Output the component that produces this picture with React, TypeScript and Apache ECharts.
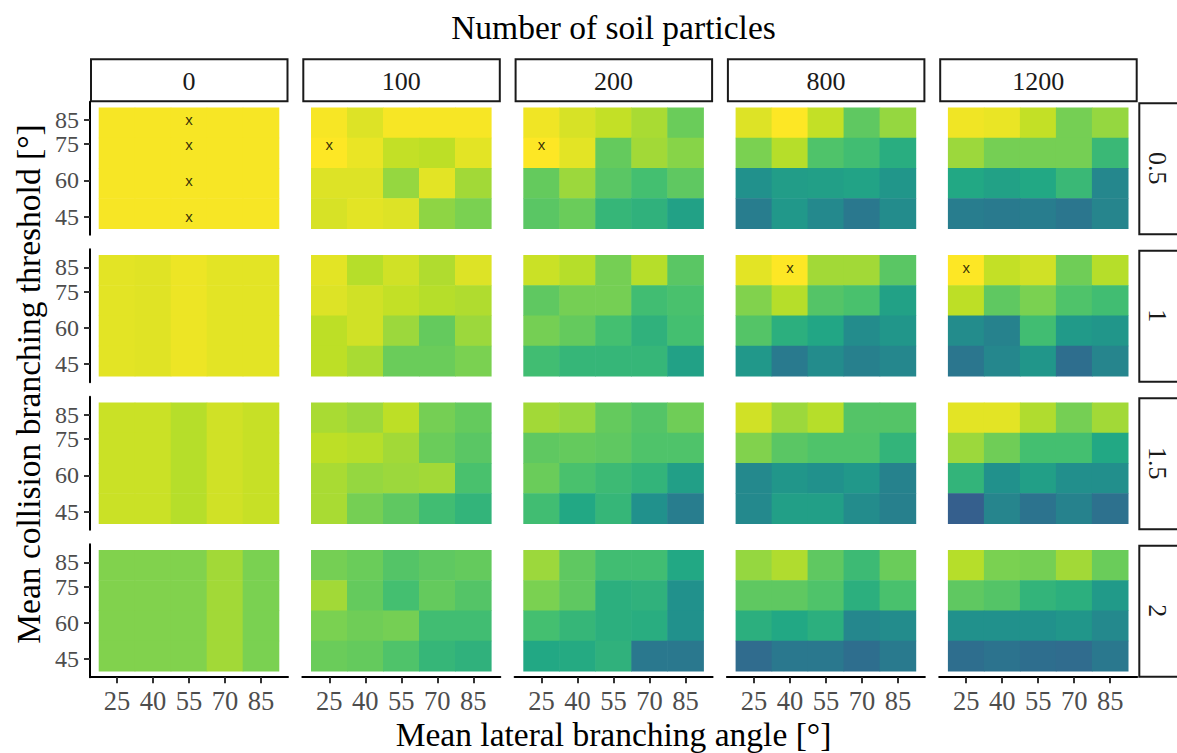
import React, { useEffect, useRef } from "react";
import * as echarts from "echarts";

// ---------- data ----------
const particleCounts = ["0", "100", "200", "800", "1200"];
const thresholdLevels = ["0.5", "1", "1.5", "2"];
const branchingAngles = [25, 40, 55, 70, 85];
const collisionRowsTopDown = [85, 75, 60, 45];
const collisionTicks = [45, 60, 75, 85];
const tileBandEdges = [40, 52.5, 65, 77.5, 90];
const tileWidth = 15;

// each panel: rows top-down (85, 75, 60, 45), columns = branching angles 25..85
const scoreT05 = [
  [
    [0.99, 0.99, 0.99, 0.99, 0.99],
    [0.99, 0.99, 0.99, 0.99, 0.99],
    [0.99, 0.99, 0.99, 0.99, 0.99],
    [0.99, 0.99, 0.99, 0.99, 0.99],
  ],
  [
    [0.99, 0.95, 0.99, 0.99, 0.99],
    [1.0, 0.97, 0.91, 0.9, 0.96],
    [0.95, 0.95, 0.84, 0.96, 0.86],
    [0.94, 0.96, 0.95, 0.83, 0.8],
  ],
  [
    [0.98, 0.94, 0.91, 0.87, 0.77],
    [1.0, 0.96, 0.76, 0.86, 0.82],
    [0.76, 0.85, 0.74, 0.7, 0.75],
    [0.74, 0.77, 0.66, 0.64, 0.57],
  ],
  [
    [0.95, 1.0, 0.91, 0.75, 0.84],
    [0.8, 0.89, 0.72, 0.69, 0.62],
    [0.5, 0.55, 0.56, 0.58, 0.52],
    [0.42, 0.53, 0.47, 0.4, 0.48],
  ],
  [
    [0.98, 0.97, 0.91, 0.79, 0.84],
    [0.85, 0.79, 0.79, 0.79, 0.67],
    [0.6, 0.57, 0.6, 0.67, 0.46],
    [0.42, 0.41, 0.42, 0.39, 0.45],
  ],
];

const scoreT1 = [
  [
    [0.96, 0.955, 0.975, 0.96, 0.96],
    [0.96, 0.955, 0.975, 0.96, 0.96],
    [0.96, 0.955, 0.975, 0.96, 0.96],
    [0.96, 0.955, 0.975, 0.96, 0.96],
  ],
  [
    [0.96, 0.89, 0.93, 0.88, 0.95],
    [0.95, 0.93, 0.91, 0.89, 0.88],
    [0.9, 0.93, 0.85, 0.76, 0.85],
    [0.9, 0.87, 0.77, 0.77, 0.8],
  ],
  [
    [0.92, 0.89, 0.79, 0.89, 0.74],
    [0.75, 0.79, 0.79, 0.69, 0.71],
    [0.79, 0.76, 0.7, 0.64, 0.7],
    [0.69, 0.66, 0.66, 0.66, 0.57],
  ],
  [
    [0.96, 1.0, 0.86, 0.86, 0.74],
    [0.81, 0.89, 0.73, 0.71, 0.57],
    [0.73, 0.63, 0.59, 0.48, 0.52],
    [0.53, 0.41, 0.48, 0.43, 0.46],
  ],
  [
    [1.0, 0.91, 0.93, 0.78, 0.89],
    [0.9, 0.75, 0.8, 0.72, 0.69],
    [0.48, 0.44, 0.69, 0.54, 0.52],
    [0.39, 0.46, 0.52, 0.36, 0.45],
  ],
];

const scoreT15 = [
  [
    [0.92, 0.92, 0.89, 0.93, 0.915],
    [0.92, 0.92, 0.89, 0.93, 0.915],
    [0.92, 0.92, 0.89, 0.93, 0.915],
    [0.92, 0.92, 0.89, 0.93, 0.915],
  ],
  [
    [0.87, 0.85, 0.9, 0.79, 0.76],
    [0.9, 0.89, 0.86, 0.77, 0.74],
    [0.87, 0.84, 0.85, 0.86, 0.71],
    [0.87, 0.79, 0.75, 0.69, 0.65],
  ],
  [
    [0.86, 0.84, 0.76, 0.73, 0.78],
    [0.75, 0.76, 0.75, 0.72, 0.72],
    [0.77, 0.71, 0.68, 0.65, 0.56],
    [0.69, 0.6, 0.66, 0.5, 0.42],
  ],
  [
    [0.93, 0.85, 0.89, 0.73, 0.73],
    [0.81, 0.74, 0.72, 0.72, 0.65],
    [0.47, 0.52, 0.5, 0.53, 0.44],
    [0.47, 0.56, 0.56, 0.48, 0.43],
  ],
  [
    [0.96, 0.96, 0.88, 0.79, 0.86],
    [0.85, 0.78, 0.7, 0.7, 0.6],
    [0.65, 0.5, 0.56, 0.49, 0.49],
    [0.3, 0.45, 0.38, 0.44, 0.37],
  ],
];

const scoreT2 = [
  [
    [0.81, 0.81, 0.81, 0.86, 0.8],
    [0.81, 0.81, 0.81, 0.86, 0.8],
    [0.81, 0.81, 0.81, 0.86, 0.8],
    [0.81, 0.81, 0.81, 0.86, 0.8],
  ],
  [
    [0.79, 0.77, 0.73, 0.75, 0.76],
    [0.86, 0.76, 0.7, 0.76, 0.73],
    [0.8, 0.78, 0.79, 0.69, 0.69],
    [0.77, 0.76, 0.72, 0.66, 0.64],
  ],
  [
    [0.85, 0.75, 0.69, 0.69, 0.6],
    [0.8, 0.75, 0.63, 0.64, 0.5],
    [0.7, 0.66, 0.63, 0.62, 0.5],
    [0.6, 0.61, 0.64, 0.4, 0.4],
  ],
  [
    [0.84, 0.88, 0.75, 0.68, 0.77],
    [0.75, 0.75, 0.72, 0.63, 0.71],
    [0.63, 0.6, 0.63, 0.46, 0.48],
    [0.35, 0.4, 0.4, 0.36, 0.41],
  ],
  [
    [0.89, 0.8, 0.79, 0.86, 0.77],
    [0.75, 0.73, 0.65, 0.63, 0.54],
    [0.5, 0.5, 0.5, 0.52, 0.47],
    [0.36, 0.38, 0.36, 0.35, 0.4],
  ],
];

const scoresByThreshold = [scoreT05, scoreT1, scoreT15, scoreT2];

// best-fit markers ("x")
const bestParticle = ["0", "0", "0", "0", "100", "200", "800", "1200"];
const bestThresholdLevel = ["0.5", "0.5", "0.5", "0.5", "0.5", "0.5", "1", "1"];
const bestAngle = [55, 55, 55, 55, 25, 25, 40, 25];
const bestCollision = [85, 75, 60, 45, 75, 75, 85, 85];

const viridis = [
  "#440154", "#482475", "#414487", "#355F8D", "#2A788E", "#21918C",
  "#22A884", "#44BF70", "#7AD151", "#BDDF26", "#FDE725",
];

// ---------- layout ----------
const PANEL_LEFT = 90;
const PANEL_PITCH_X = 212.3;
const PANEL_W = 198;
const PANEL_TOP = 101.7;
const PANEL_PITCH_Y = 147.5;
const PANEL_H = 133;
const SERIF = "Liberation Serif";

export default function App() {
  const ref = useRef<HTMLDivElement>(null);

  useEffect(() => {
    if (!ref.current) return;
    const chart = echarts.init(ref.current, undefined, { renderer: "svg" });

    const grids: any[] = [];
    const xAxes: any[] = [];
    const yAxes: any[] = [];
    const extraYAxes: any[] = [];
    const series: any[] = [];
    const graphics: any[] = [];
    const nCols = particleCounts.length;
    const nRows = thresholdLevels.length;

    // the close 75/85 ticks are split over two stacked axes so neither label is auto-hidden
    const lowerTicks = collisionTicks.slice(0, collisionTicks.length - 1);
    const upperTicks = collisionTicks.slice(collisionTicks.length - 1);

    const yAxisBase = (idx: number, show: boolean, ticks: number[], line: boolean) => ({
      gridIndex: idx,
      type: "value",
      position: "left",
      offset: 0,
      min: 37.5,
      max: 92.5,
      show,
      axisLine: { show: line, onZero: false, lineStyle: { color: "#000", width: 2 } },
      axisTick: {
        show: true,
        length: 6,
        lineStyle: { color: "#333", width: 2 },
        customValues: ticks,
      },
      axisLabel: {
        show: true,
        customValues: ticks,
        hideOverlap: false,
        color: "#4D4D4D",
        fontFamily: SERIF,
        fontSize: 24,
        lineHeight: 20,
        margin: 11,
      },
      splitLine: { show: false },
    });

    for (let r = 0; r < nRows; r++) {
      for (let c = 0; c < nCols; c++) {
        const idx = r * nCols + c;
        const left = PANEL_LEFT + PANEL_PITCH_X * c;
        const top = PANEL_TOP + PANEL_PITCH_Y * r;
        grids.push({ left, top, width: PANEL_W, height: PANEL_H, containLabel: false });
        const isBottom = r === nRows - 1;
        const isLeft = c === 0;
        xAxes.push({
          gridIndex: idx,
          type: "value",
          min: 13.75,
          max: 96.25,
          show: isBottom,
          axisLine: { show: true, onZero: false, lineStyle: { color: "#000", width: 2 } },
          axisTick: {
            show: true,
            length: 6,
            lineStyle: { color: "#333", width: 2 },
            customValues: branchingAngles,
          },
          axisLabel: {
            show: true,
            customValues: branchingAngles,
            hideOverlap: false,
            color: "#4D4D4D",
            fontFamily: SERIF,
            fontSize: 26.5,
            margin: 10,
          },
          splitLine: { show: false },
        });
        yAxes.push(yAxisBase(idx, isLeft, lowerTicks, true));
        if (isLeft) extraYAxes.push(yAxisBase(idx, true, upperTicks, false));

        const panel = scoresByThreshold[r][c];
        const data: number[][] = [];
        collisionRowsTopDown.forEach((_, k) => {
          const b = collisionRowsTopDown.length - 1 - k;
          branchingAngles.forEach((a, j) => {
            data.push([a, tileBandEdges[b], tileBandEdges[b + 1], panel[k][j]]);
          });
        });
        series.push({
          type: "custom",
          xAxisIndex: idx,
          yAxisIndex: idx,
          encode: { x: 0, y: [1, 2] },
          data,
          renderItem: (params: any, api: any) => {
            const a = api.value(0);
            const lo = api.value(1);
            const hi = api.value(2);
            const p0 = api.coord([a - tileWidth / 2, hi]);
            const p1 = api.coord([a + tileWidth / 2, lo]);
            return {
              type: "rect",
              shape: {
                x: p0[0] - 0.3,
                y: p0[1] - 0.3,
                width: p1[0] - p0[0] + 0.6,
                height: p1[1] - p0[1] + 0.6,
              },
              style: { fill: api.visual("color") },
            };
          },
          z: 2,
        });
      }
    }

    const nHeat = series.length;

    // markers
    for (let r = 0; r < nRows; r++) {
      for (let c = 0; c < nCols; c++) {
        const idx = r * nCols + c;
        const pts: number[][] = [];
        bestParticle.forEach((p, i) => {
          if (p === particleCounts[c] && bestThresholdLevel[i] === thresholdLevels[r]) {
            pts.push([bestAngle[i], bestCollision[i]]);
          }
        });
        if (pts.length) {
          series.push({
            type: "scatter",
            xAxisIndex: idx,
            yAxisIndex: idx,
            data: pts,
            symbol: "circle",
            symbolSize: 1,
            itemStyle: { color: "rgba(0,0,0,0)" },
            label: {
              show: true,
              position: "inside",
              formatter: "x",
              color: "#000",
              fontFamily: "Liberation Sans",
              fontSize: 15,
            },
            z: 5,
          });
        }
      }
    }

    // strips
    particleCounts.forEach((p, c) => {
      const left = PANEL_LEFT + PANEL_PITCH_X * c;
      graphics.push({
        type: "rect",
        shape: { x: left + 1, y: 59.3, width: PANEL_W - 1.5, height: 42 },
        style: { fill: "#fff", stroke: "#1a1a1a", lineWidth: 2 },
      });
      graphics.push({
        type: "text",
        x: left + PANEL_W / 2,
        y: 81,
        style: {
          text: p,
          fill: "#1A1A1A",
          font: `26px "${SERIF}"`,
          textAlign: "center",
          textVerticalAlign: "middle",
        },
      });
    });
    thresholdLevels.forEach((t, r) => {
      const top = PANEL_TOP + PANEL_PITCH_Y * r;
      graphics.push({
        type: "rect",
        shape: { x: 1139.3, y: top + 1.5, width: 90, height: PANEL_H - 2 },
        style: { fill: "#fff", stroke: "#1a1a1a", lineWidth: 2 },
      });
      graphics.push({
        type: "text",
        x: 1157,
        y: top + PANEL_H / 2,
        rotation: -Math.PI / 2,
        style: {
          text: t,
          fill: "#1A1A1A",
          font: `26px "${SERIF}"`,
          textAlign: "center",
          textVerticalAlign: "middle",
        },
      });
    });

    // titles
    graphics.push({
      type: "text",
      x: 613.5,
      y: 27,
      style: {
        text: "Number of soil particles",
        fill: "#000",
        font: `33.5px "${SERIF}"`,
        textAlign: "center",
        textVerticalAlign: "middle",
      },
    });
    graphics.push({
      type: "text",
      x: 613.5,
      y: 734,
      style: {
        text: "Mean lateral branching angle [°]",
        fill: "#000",
        font: `33.5px "${SERIF}"`,
        textAlign: "center",
        textVerticalAlign: "middle",
      },
    });
    graphics.push({
      type: "text",
      x: 28,
      y: 384,
      rotation: Math.PI / 2,
      style: {
        text: "Mean collision branching threshold [°]",
        fill: "#000",
        font: `33.5px "${SERIF}"`,
        textAlign: "center",
        textVerticalAlign: "middle",
      },
    });

    chart.setOption({
      animation: false,
      backgroundColor: "#fff",
      grid: grids,
      xAxis: xAxes,
      yAxis: yAxes.concat(extraYAxes),
      visualMap: {
        type: "continuous",
        show: false,
        min: 0,
        max: 1,
        dimension: 3,
        seriesIndex: Array.from({ length: nHeat }, (_, i) => i),
        inRange: { color: viridis },
      },
      series,
      graphic: graphics,
    });

    return () => chart.dispose();
  }, []);

  return (
    <div
      ref={ref}
      style={{ position: "fixed", left: 0, top: 0, width: 1177, height: 753, background: "#fff" }}
    />
  );
}
